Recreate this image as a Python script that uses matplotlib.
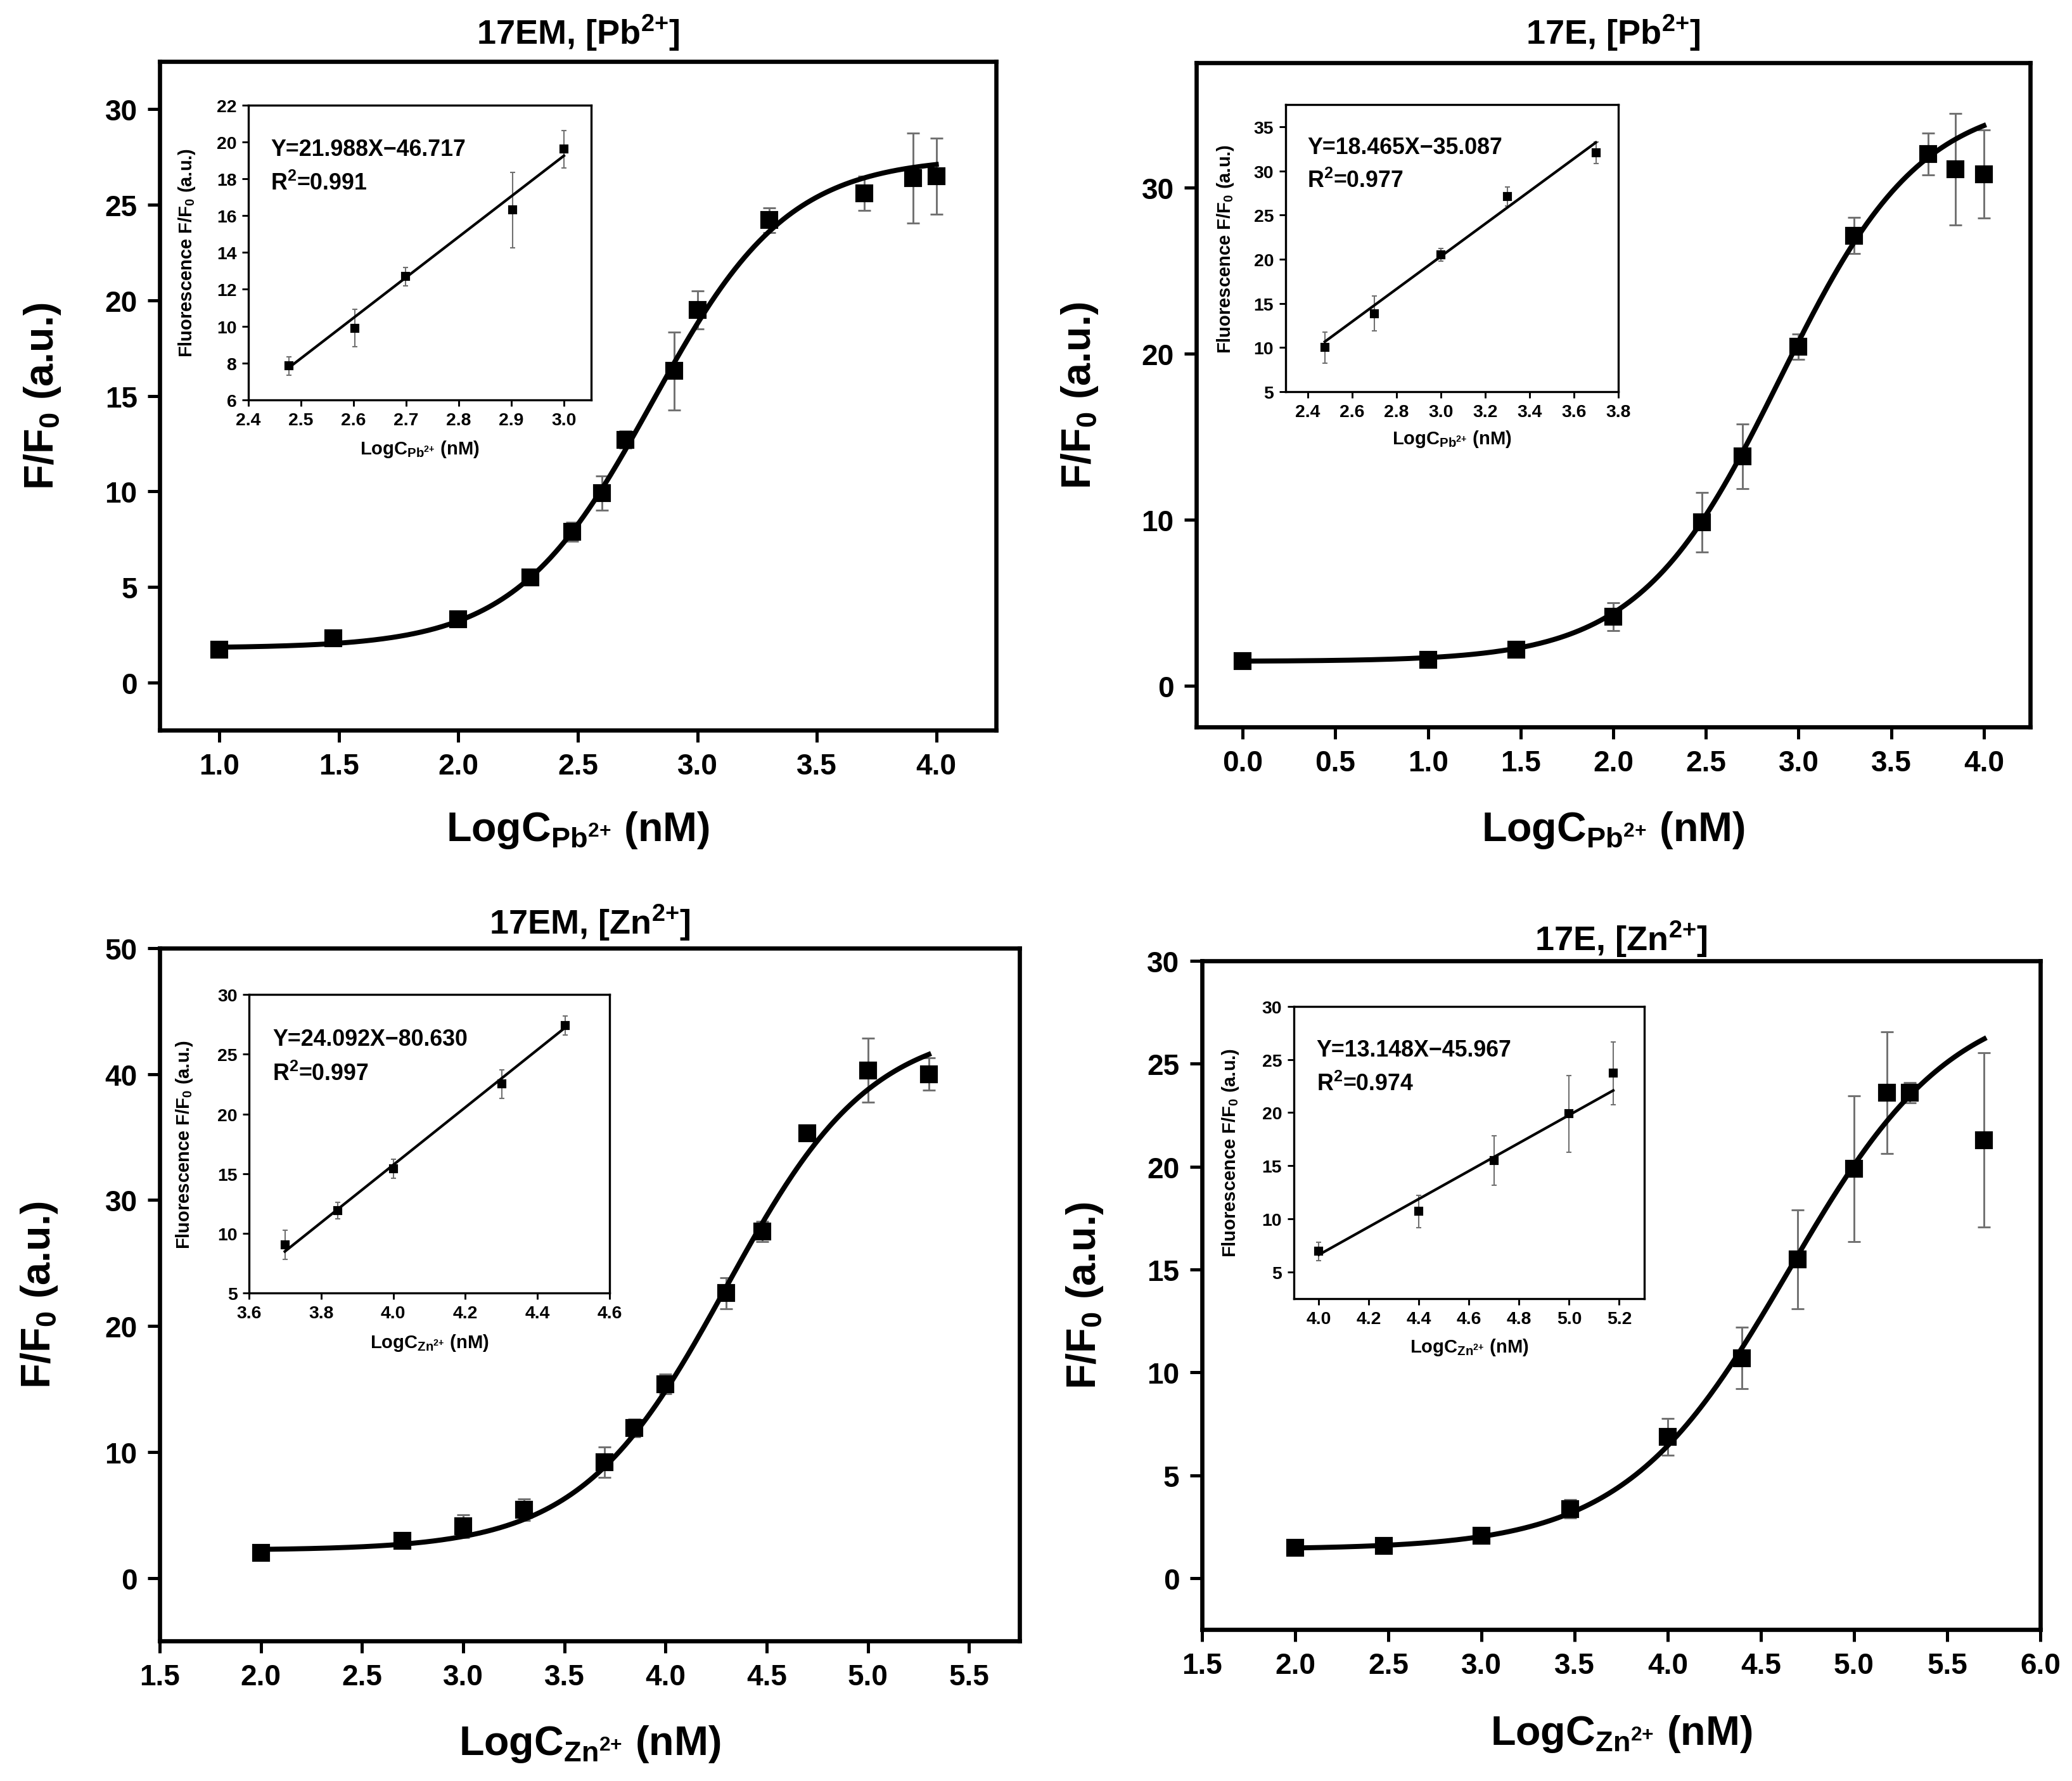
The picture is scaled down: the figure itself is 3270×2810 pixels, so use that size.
import numpy as np
import matplotlib
matplotlib.use("Agg")
import matplotlib.pyplot as plt
from matplotlib.ticker import MultipleLocator, FormatStrFormatter

plt.rcParams.update({
    "font.family": ["Liberation Sans", "DejaVu Sans"],
    "font.weight": "bold",
    "mathtext.default": "regular",
})

# ---- 17EM, Pb2+ ----
pb_em_x = [1.0, 1.477, 2.0, 2.301, 2.477, 2.602, 2.699, 2.903, 3.0, 3.301, 3.699, 3.903, 4.0]
pb_em_y = [1.7, 2.3, 3.3, 5.5, 7.9, 9.9, 12.7, 16.3, 19.5, 24.2, 25.6, 26.4, 26.5]
pb_em_err = [0.15, 0.2, 0.25, 0.25, 0.5, 0.9, 0.45, 2.05, 1.0, 0.65, 0.9, 2.35, 2.0]
pb_em_fit = (1.8, 27.5, 2.81, 0.285)          # A1, A2, x0, dx (Boltzmann)
pb_em_in_x = [2.477, 2.602, 2.699, 2.903, 3.0]
pb_em_in_y = [7.85, 9.9, 12.7, 16.3, 19.6]
pb_em_in_err = [0.5, 1.0, 0.5, 2.05, 1.0]
pb_em_eq = (21.988, -46.717, 0.991)

# ---- 17E, Pb2+ ----
pb_e_x = [0.0, 1.0, 1.477, 2.0, 2.477, 2.699, 3.0, 3.301, 3.699, 3.845, 4.0]
pb_e_y = [1.46, 1.53, 2.14, 4.15, 9.83, 13.8, 20.4, 27.1, 32.0, 31.1, 30.8]
pb_e_err = [0.2, 0.2, 0.25, 0.85, 1.8, 1.95, 0.75, 1.1, 1.25, 3.35, 2.65]
pb_e_fit = (1.45, 35.5, 2.9, 0.38)
pb_e_in_x = [2.477, 2.699, 3.0, 3.301, 3.699]
pb_e_in_y = [10.0, 13.85, 20.5, 27.1, 32.05]
pb_e_in_err = [1.75, 1.95, 0.7, 1.1, 1.2]
pb_e_eq = (18.465, -35.087, 0.977)

# ---- 17EM, Zn2+ ----
zn_em_x = [2.0, 2.699, 3.0, 3.301, 3.699, 3.845, 4.0, 4.301, 4.477, 4.699, 5.0, 5.301]
zn_em_y = [2.0, 2.96, 4.1, 5.4, 9.2, 11.9, 15.4, 22.6, 27.5, 35.3, 40.3, 40.0]
zn_em_err = [0.2, 0.4, 0.9, 0.85, 1.2, 0.7, 0.8, 1.25, 0.8, 0.55, 2.55, 1.3]
zn_em_fit = (2.2, 44.0, 4.3, 0.36)
zn_em_in_x = [3.699, 3.845, 4.0, 4.301, 4.477]
zn_em_in_y = [9.05, 11.9, 15.4, 22.5, 27.4]
zn_em_in_err = [1.2, 0.7, 0.8, 1.2, 0.8]
zn_em_eq = (24.092, -80.630, 0.997)

# ---- 17E, Zn2+ ----
zn_e_x = [2.0, 2.477, 3.0, 3.477, 4.0, 4.398, 4.699, 5.0, 5.176, 5.301, 5.699]
zn_e_y = [1.47, 1.58, 2.07, 3.37, 6.86, 10.7, 15.5, 19.9, 23.6, 23.6, 21.3]
zn_e_err = [0.2, 0.2, 0.2, 0.45, 0.9, 1.5, 2.4, 3.55, 2.95, 0.5, 4.25]
zn_e_fit = (1.4, 28.5, 4.65, 0.44)
zn_e_in_x = [4.0, 4.398, 4.699, 5.0, 5.176]
zn_e_in_y = [6.95, 10.7, 15.5, 19.9, 23.7]
zn_e_in_err = [0.85, 1.5, 2.35, 3.6, 2.95]
zn_e_eq = (13.148, -45.967, 0.974)

ERR_COLOR = "#707070"


def boltzmann(x, a1, a2, x0, dx):
    return a2 + (a1 - a2) / (1 + np.exp((x - x0) / dx))


def style_axes(ax, lw, tick_len, tick_w, size, pad):
    for s in ax.spines.values():
        s.set_linewidth(lw)
    ax.tick_params(direction="out", length=tick_len, width=tick_w,
                   labelsize=size, pad=pad, top=False, right=False)
    for lab in ax.get_xticklabels() + ax.get_yticklabels():
        lab.set_fontweight("bold")


def ion_label(ion):
    return r"LogC$_{%s^{2{+}}}$ (nM)" % ion


def draw_panel(rect, title, ion, x, y, err, fit, xlim, ylim, ystep,
               in_rect, in_x, in_y, in_err, eq, in_xlim, in_ylim, in_xstep, in_ystep,
               title_y, xlab_y):
    ax = fig.add_axes(rect)
    ax.errorbar(x, y, yerr=err, fmt="none", ecolor=ERR_COLOR, elinewidth=0.7,
                capsize=2.5, capthick=0.7, zorder=1)
    xs = np.linspace(x[0], x[-1], 300)
    ax.plot(xs, boltzmann(xs, *fit), color="black", lw=1.9, zorder=2)
    ax.plot(x, y, "s", color="black", ms=5.8, zorder=3)
    ax.set_xlim(*xlim)
    ax.set_ylim(*ylim)
    ax.xaxis.set_major_locator(MultipleLocator(0.5))
    ax.yaxis.set_major_locator(MultipleLocator(ystep))
    ax.xaxis.set_major_formatter(FormatStrFormatter("%.1f"))
    ax.yaxis.set_major_formatter(FormatStrFormatter("%d"))
    style_axes(ax, 1.6, 4.5, 1.2, 11, 4)
    ax.set_title(title + r", [%s$^{2{+}}$]" % ion, fontsize=13, fontweight="bold",
                 y=title_y, va="center", pad=0)
    ax.set_xlabel(ion_label(ion), fontsize=15.5, fontweight="bold", va="center")
    ax.xaxis.set_label_coords(0.5, xlab_y)
    ax.set_ylabel(r"F/F$_0$ (a.u.)", fontsize=15.5, fontweight="bold", va="center")
    ax.yaxis.set_label_coords(-0.14, 0.5)

    ins = ax.inset_axes(in_rect)
    ins.errorbar(in_x, in_y, yerr=in_err, fmt="none", ecolor=ERR_COLOR,
                 elinewidth=0.5, capsize=1.0, capthick=0.5, zorder=1)
    slope, icept, r2 = eq
    lx = np.array([in_x[0], in_x[-1]])
    ins.plot(lx, slope * lx + icept, color="black", lw=1.0, zorder=2)
    ins.plot(in_x, in_y, "s", color="black", ms=2.4, zorder=3)
    ins.set_xlim(*in_xlim)
    ins.set_ylim(*in_ylim)
    ins.xaxis.set_major_locator(MultipleLocator(in_xstep))
    ins.yaxis.set_major_locator(MultipleLocator(in_ystep))
    ins.xaxis.set_major_formatter(FormatStrFormatter("%.1f"))
    ins.yaxis.set_major_formatter(FormatStrFormatter("%d"))
    style_axes(ins, 0.8, 2.5, 0.7, 6.8, 2)
    ins.set_xlabel(ion_label(ion), fontsize=7, fontweight="bold", va="center")
    ins.xaxis.set_label_coords(0.5, -0.165)
    ins.set_ylabel(r"Fluorescence F/F$_0$ (a.u.)", fontsize=7, fontweight="bold",
                   va="center")
    ins.yaxis.set_label_coords(-0.18, 0.5)
    ins.text(0.065, 0.85, "Y=%.3fX\u2212%.3f" % (slope, -icept), transform=ins.transAxes,
             fontsize=8.6, fontweight="bold", va="center")
    ins.text(0.065, 0.735, r"R$^2$=%.3f" % r2, transform=ins.transAxes,
             fontsize=8.6, fontweight="bold", va="center")
    return ax


fig = plt.figure(figsize=(10.9, 9.37), dpi=300)

draw_panel([0.0771, 0.5898, 0.4036, 0.3753], "17EM", "Pb",
           pb_em_x, pb_em_y, pb_em_err, pb_em_fit, (0.75, 4.25), (-2.5, 32.5), 5,
           [0.106, 0.494, 0.41, 0.441], pb_em_in_x, pb_em_in_y, pb_em_in_err, pb_em_eq,
           (2.4, 3.052), (6, 22), 0.1, 2, 1.044, -0.149)

draw_panel([0.5774, 0.5916, 0.4024, 0.3728], "17E", "Pb",
           pb_e_x, pb_e_y, pb_e_err, pb_e_fit, (-0.25, 4.25), (-2.5, 37.5), 10,
           [0.107, 0.505, 0.399, 0.432], pb_e_in_x, pb_e_in_y, pb_e_in_err, pb_e_eq,
           (2.3, 3.8), (5, 37.5), 0.2, 5, 1.046, -0.155)

draw_panel([0.0771, 0.0786, 0.4150, 0.3889], "17EM", "Zn",
           zn_em_x, zn_em_y, zn_em_err, zn_em_fit, (1.5, 5.75), (-5, 50), 10,
           [0.104, 0.502, 0.419, 0.431], zn_em_in_x, zn_em_in_y, zn_em_in_err, zn_em_eq,
           (3.6, 4.6), (5, 30), 0.2, 5, 1.037, -0.148)

draw_panel([0.5801, 0.0850, 0.4046, 0.3753], "17E", "Zn",
           zn_e_x, zn_e_y, zn_e_err, zn_e_fit, (1.5, 6.0), (-2.5, 30), 5,
           [0.1096, 0.495, 0.418, 0.437], zn_e_in_x, zn_e_in_y, zn_e_in_err, zn_e_eq,
           (3.9, 5.3), (2.5, 30), 0.2, 5, 1.033, -0.155)

fig.savefig("out.png", dpi=300)
